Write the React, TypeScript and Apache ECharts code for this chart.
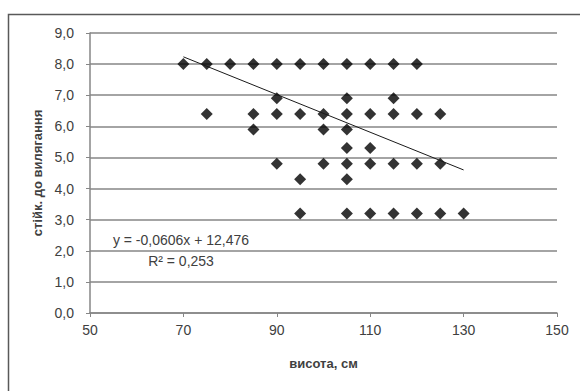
import React, { useEffect, useRef } from "react";
import * as echarts from "echarts";

const heights = [
  70, 75, 80, 85, 90, 95, 100, 105, 110, 115, 120,
  90, 105, 115,
  75, 85, 90, 95, 100, 105, 110, 115, 120, 125,
  85, 100, 105,
  105, 110,
  90, 100, 105, 110, 115, 120, 125,
  95, 105,
  95, 105, 110, 115, 120, 125, 130,
];
const resistance = [
  8.0, 8.0, 8.0, 8.0, 8.0, 8.0, 8.0, 8.0, 8.0, 8.0, 8.0,
  6.9, 6.9, 6.9,
  6.4, 6.4, 6.4, 6.4, 6.4, 6.4, 6.4, 6.4, 6.4, 6.4,
  5.9, 5.9, 5.9,
  5.3, 5.3,
  4.8, 4.8, 4.8, 4.8, 4.8, 4.8, 4.8,
  4.3, 4.3,
  3.2, 3.2, 3.2, 3.2, 3.2, 3.2, 3.2,
];
const slope = -0.0606;
const intercept = 12.476;
const trendRange = [70, 130];
const equationText = "y = -0,0606x + 12,476";
const r2Text = "R² = 0,253";
const xName = "висота, см";
const yName = "стійк. до вилягання";

const FONT = "'Liberation Sans', Arial, sans-serif";

export default function App() {
  const ref = useRef<HTMLDivElement>(null);
  useEffect(() => {
    if (!ref.current) return;
    const chart = echarts.init(ref.current, null, { renderer: "svg" });
    const points = heights.map((h, i) => [h, resistance[i]]);
    const trend = trendRange.map((x) => [x, slope * x + intercept]);
    chart.setOption({
      animation: false,
      backgroundColor: "#ffffff",
      grid: { left: 90, right: 23, top: 33, bottom: 78 },
      xAxis: {
        type: "value",
        min: 50,
        max: 150,
        interval: 20,
        name: xName,
        nameLocation: "middle",
        nameGap: 44,
        nameTextStyle: { fontFamily: FONT, fontSize: 13, fontWeight: "bold", color: "#404040" },
        axisLine: { onZero: false, lineStyle: { color: "#868686", width: 1.5 } },
        axisTick: { show: true, length: 4, lineStyle: { color: "#868686" } },
        axisLabel: { fontFamily: FONT, fontSize: 14, color: "#404040", margin: 10 },
        splitLine: { show: false },
      },
      yAxis: {
        type: "value",
        min: 0,
        max: 9,
        interval: 1,
        name: yName,
        nameLocation: "middle",
        nameGap: 44,
        nameTextStyle: { fontFamily: FONT, fontSize: 13, fontWeight: "bold", color: "#404040" },
        axisLine: { show: true, lineStyle: { color: "#868686", width: 1.5 } },
        axisTick: { show: true, length: 4, lineStyle: { color: "#868686" } },
        axisLabel: {
          fontFamily: FONT,
          fontSize: 14,
          color: "#404040",
          margin: 16,
          formatter: (v: number) => v.toFixed(1).replace(".", ","),
        },
        splitLine: { show: true, lineStyle: { color: "#868686", width: 1.5 } },
      },
      series: [
        {
          type: "scatter",
          data: points,
          symbol: "diamond",
          symbolSize: 12,
          itemStyle: { color: "#000000" },
          z: 3,
        },
        {
          type: "line",
          data: trend,
          symbol: "none",
          lineStyle: { color: "#1a1a1a", width: 1 },
          z: 4,
        },
      ],
      graphic: [
        {
          type: "rect",
          shape: { x: 8.5, y: 14.5, width: 600, height: 400 },
          style: { fill: "none", stroke: "#595959", lineWidth: 1.5 },
          silent: true,
        },
        {
          type: "text",
          x: 181,
          y: 240,
          style: {
            text: equationText,
            font: `14px ${FONT}`,
            fill: "#404040",
            align: "center",
            verticalAlign: "middle",
          },
        },
        {
          type: "text",
          x: 181,
          y: 261,
          style: {
            text: r2Text,
            font: `14px ${FONT}`,
            fill: "#404040",
            align: "center",
            verticalAlign: "middle",
          },
        },
      ],
    });
    return () => chart.dispose();
  }, []);
  return <div ref={ref} style={{ width: 580, height: 391, position: "absolute", left: 0, top: 0 }} />;
}
